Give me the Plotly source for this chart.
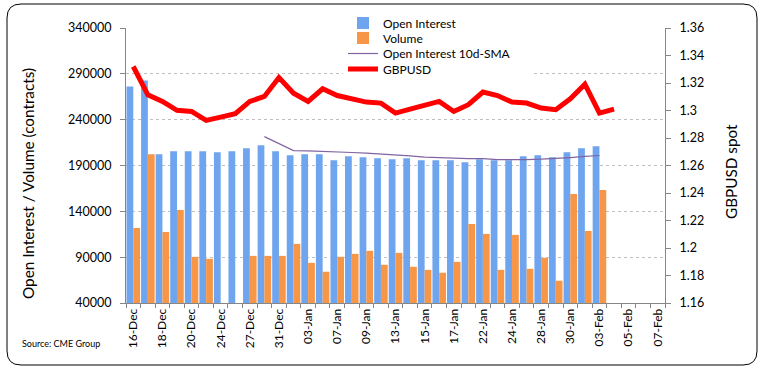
import plotly.graph_objects as go

dates = ["16-Dec","17-Dec","18-Dec","19-Dec","20-Dec","23-Dec","24-Dec","26-Dec","27-Dec","30-Dec","31-Dec",
         "02-Jan","03-Jan","06-Jan","07-Jan","08-Jan","09-Jan","10-Jan","13-Jan","14-Jan","15-Jan","16-Jan",
         "17-Jan","21-Jan","22-Jan","23-Jan","24-Jan","27-Jan","28-Jan","29-Jan","30-Jan","31-Jan",
         "03-Feb","04-Feb","05-Feb","06-Feb","07-Feb"]
tick_labels = ["16-Dec","","18-Dec","","20-Dec","","24-Dec","","27-Dec","","31-Dec",
               "","03-Jan","","07-Jan","","09-Jan","","13-Jan","","15-Jan","",
               "17-Jan","","22-Jan","","24-Jan","","28-Jan","","30-Jan","",
               "03-Feb","","05-Feb","","07-Feb"]
open_interest = [276200, 282700, 202300, 205600, 205600, 205600, 204500, 205600, 208800, 212100, 205600,
                 201200, 202300, 202300, 195800, 200100, 199100, 198000, 196900, 198000, 195800, 195800,
                 195800, 193600, 196900, 195800, 195800, 200100, 201200, 199100, 204500, 208800,
                 211000, None, None, None, None]
volume = [121900, 202300, 117500, 141400, 90400, 88200, None, None, 91400, 91400, 91400,
          104500, 83800, 74100, 90400, 93600, 96900, 81700, 94700, 79500, 76200, 73000,
          84900, 126200, 115400, 76200, 114300, 77300, 89300, 64300, 158800, 118600,
          163200, None, None, None, None]
oi_sma10 = [None, None, None, None, None, None, None, None, None, 221500, 214000,
            206300, 205900, 205600, 205000, 204200, 203500, 202700, 202000, 200500, 199100, 198300,
            198000, 197600, 197600, 196500, 196200, 196500, 196900, 197600, 198700, 199900,
            200900, None, None, None, None]
gbpusd = [1.332, 1.3114, 1.3066, 1.3001, 1.2993, 1.2928, 1.2952, 1.2977, 1.3066, 1.3102, 1.324,
          1.3126, 1.3066, 1.3158, 1.3109, 1.3085, 1.3061, 1.3054, 1.2981, 1.3010, 1.3035, 1.3066,
          1.2993, 1.3042, 1.3134, 1.3109, 1.3061, 1.3054, 1.3018, 1.3006, 1.3085, 1.3191,
          1.2981, 1.3010, None, None, None]

FONT = "Lato"

# plot area in pixels: x 126..665, y 28..303
def px_x(p):
    return (p - 126) / 539.0
def px_y(p):
    return (303 - p) / 275.0

fig = go.Figure()
fig.add_trace(go.Bar(x=dates, y=open_interest, name="Open Interest", legend="legend",
                     marker=dict(color="#6FA5EE", line=dict(width=0))))
fig.add_trace(go.Bar(x=dates, y=volume, name="Volume", legend="legend2",
                     marker=dict(color="#F79646", line=dict(width=0))))
fig.add_trace(go.Scatter(x=dates, y=oi_sma10, name="Open Interest 10d-SMA", mode="lines",
                         legend="legend3", line=dict(color="#8064A2", width=1.2)))
fig.add_trace(go.Scatter(x=dates, y=gbpusd, name="GBPUSD", mode="lines", yaxis="y2",
                         legend="legend4", line=dict(color="#FF0000", width=5)))

L, R, T, B, r = 7, 757, 4, 365, 14
path = (f"M {px_x(L+r)},{px_y(T)} L {px_x(R-r)},{px_y(T)} Q {px_x(R)},{px_y(T)} {px_x(R)},{px_y(T+r)} "
        f"L {px_x(R)},{px_y(B-r)} Q {px_x(R)},{px_y(B)} {px_x(R-r)},{px_y(B)} "
        f"L {px_x(L+r)},{px_y(B)} Q {px_x(L)},{px_y(B)} {px_x(L)},{px_y(B-r)} "
        f"L {px_x(L)},{px_y(T+r)} Q {px_x(L)},{px_y(T)} {px_x(L+r)},{px_y(T)} Z")

def leg(yc):
    return dict(x=px_x(343), y=px_y(yc), xanchor="left", yanchor="middle",
                bgcolor="rgba(0,0,0,0)", font=dict(family=FONT, size=12), itemwidth=30,
                borderwidth=0)

fig.update_layout(
    width=765, height=374, autosize=False,
    margin=dict(l=126, r=100, t=28, b=71, autoexpand=False),
    paper_bgcolor="white", plot_bgcolor="white",
    font=dict(family=FONT, size=12, color="#000000"),
    barmode="group", bargap=0.07, bargroupgap=0,
    showlegend=True,
    legend=leg(23), legend2=leg(38), legend3=leg(53.5), legend4=leg(69),
    xaxis=dict(type="category", categoryorder="array", categoryarray=dates,
               tickmode="array", tickvals=dates, ticktext=tick_labels, tickangle=-90,
               ticks="outside", ticklen=4, tickcolor="#868686", tickson="boundaries",
               showline=True, linecolor="#868686", linewidth=1, showgrid=False,
               range=[-0.5, len(dates) - 0.5], tickfont=dict(size=12)),
    yaxis=dict(range=[40000, 340000], dtick=50000, tick0=40000, tickformat="d",
               showline=True, linecolor="#868686", ticks="outside", ticklen=5, tickcolor="#868686",
               showgrid=True, gridcolor="#BFBFBF", griddash="3px,3px", gridwidth=1,
               zeroline=False, ticklabelstandoff=6, tickfont=dict(size=12.5)),
    yaxis2=dict(range=[1.16, 1.36], dtick=0.02, tick0=1.16, overlaying="y", side="right",
                showline=True, linecolor="#868686", ticks="outside", ticklen=5, tickcolor="#868686",
                showgrid=False, zeroline=False, ticklabelstandoff=6, tickfont=dict(size=12.5)),
    shapes=[
        dict(type="rect", xref="paper", yref="paper", x0=px_x(343), x1=px_x(531),
             y0=px_y(80), y1=px_y(12), line=dict(width=0), fillcolor="white", layer="above"),
        dict(type="path", xref="paper", yref="paper", path=path,
             line=dict(color="#000000", width=1), fillcolor="rgba(0,0,0,0)", layer="above"),
    ],
    annotations=[
        dict(text="Open Interest / Volume (contracts)", xref="paper", yref="paper",
             x=px_x(28), y=px_y(184), textangle=-90, showarrow=False,
             font=dict(family=FONT, size=15.3), xanchor="center", yanchor="middle"),
        dict(text="GBPUSD spot", xref="paper", yref="paper",
             x=px_x(731), y=px_y(172), textangle=-90, showarrow=False,
             font=dict(family=FONT, size=15.3), xanchor="center", yanchor="middle"),
        dict(text="Source: CME Group", xref="paper", yref="paper",
             x=px_x(20), y=px_y(343), showarrow=False,
             font=dict(family=FONT, size=9), xanchor="left", yanchor="middle"),
    ],
)

fig.write_html("out.html", config={"displayModeBar": False},
               post_script="document.body.style.margin='0px';")
